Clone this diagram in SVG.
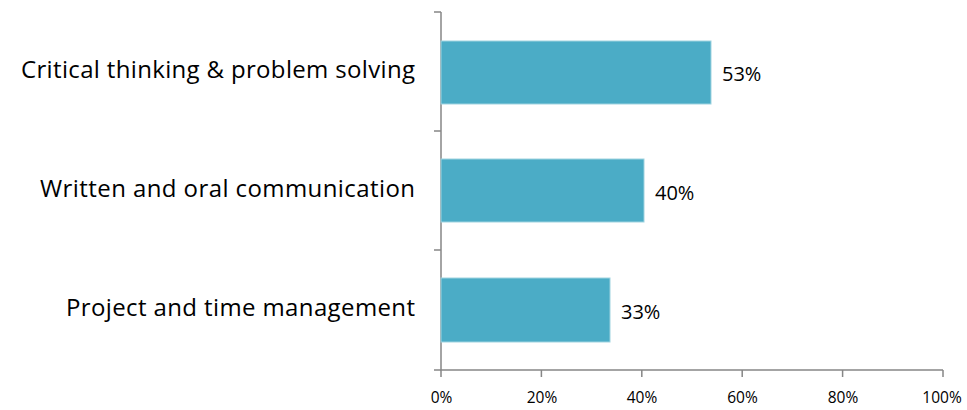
<svg xmlns="http://www.w3.org/2000/svg" width="967" height="410" viewBox="0 0 967 410">
<style>
.cat{font-family:"Open Sans","Liberation Sans",sans-serif;font-size:24px;fill:#000;text-anchor:end}
.val{font-family:"Open Sans","Liberation Sans",sans-serif;font-size:20px;fill:#000}
.tick{font-family:"Open Sans","Liberation Sans",sans-serif;font-size:15.5px;fill:#000;text-anchor:middle}
.bar{fill:#4BACC6;stroke:#9fd3e0;stroke-width:1}
.axis{stroke:#868686;stroke-width:1.5;fill:none}
</style>
<rect width="967" height="410" fill="#fff"/>
<g id="axes">
<path class="axis" d="M441,12V370H943"/>
<path class="axis" d="M434,12H441M434,131H441M434,250H441M434,370H441"/>
<path class="axis" d="M441,370V377M541.4,370V377M641.8,370V377M742.2,370V377M842.6,370V377M943,370V377"/>
<text class="tick" x="441.5" y="403">0%</text>
<text class="tick" x="542" y="403">20%</text>
<text class="tick" x="642" y="403">40%</text>
<text class="tick" x="742.5" y="403">60%</text>
<text class="tick" x="843" y="403">80%</text>
<text class="tick" x="942" y="403">100%</text>
</g>
<g id="bar-critical">
<rect class="bar" x="441" y="41" width="270" height="63"/>
<text class="cat" x="415" y="78" textLength="394" lengthAdjust="spacing">Critical thinking &amp; problem solving</text>
<text class="val" x="722" y="81">53%</text>
</g>
<g id="bar-written">
<rect class="bar" x="441" y="159" width="203" height="63"/>
<text class="cat" x="415" y="197" textLength="375" lengthAdjust="spacing">Written and oral communication</text>
<text class="val" x="655" y="200">40%</text>
</g>
<g id="bar-project">
<rect class="bar" x="441" y="278" width="169" height="64"/>
<text class="cat" x="415" y="316" textLength="349" lengthAdjust="spacing">Project and time management</text>
<text class="val" x="621" y="319">33%</text>
</g>
</svg>
